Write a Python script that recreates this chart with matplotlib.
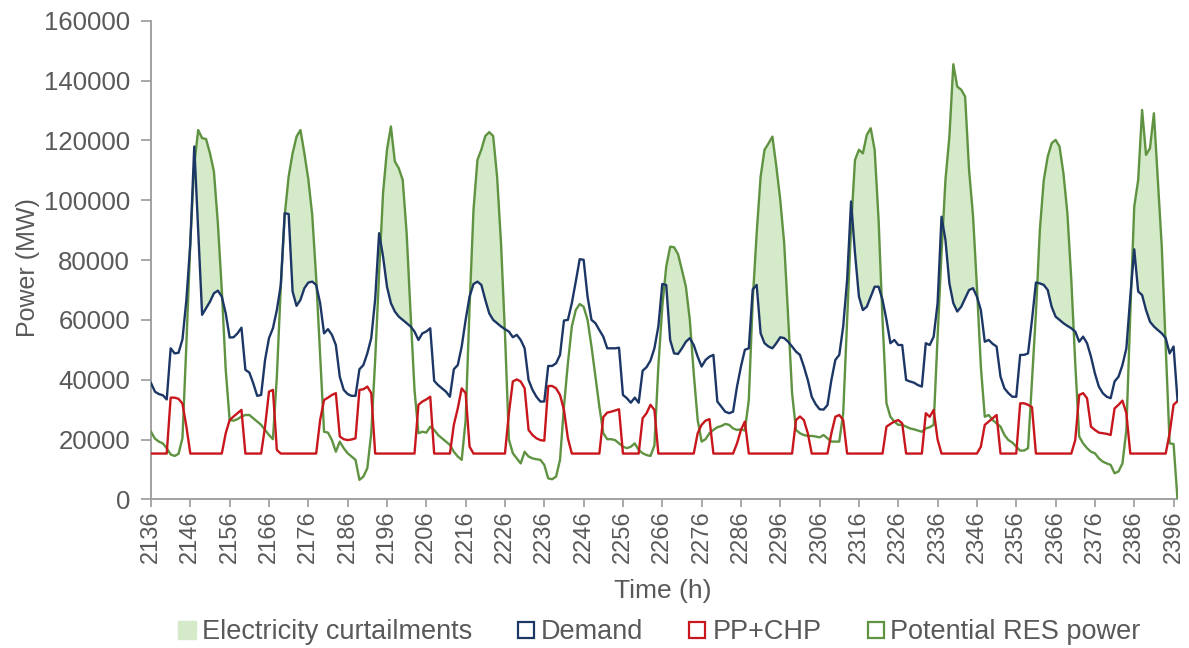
import numpy as np
import matplotlib
matplotlib.use("Agg")
import matplotlib.pyplot as plt
from matplotlib.lines import Line2D

hours = list(range(2136, 2398))

demand = [
    38900, 36000, 35200, 34800, 33400, 50500, 48800, 49000, 53500, 66700,
    85600, 118000, 90000, 61700, 63900, 66100, 68900, 69800, 67800, 62200,
    54100, 54200, 55500, 57400, 43300, 42400, 38800, 34600, 34900, 46600,
    53900, 57200, 63300, 71700, 95700, 95400, 69500, 64700, 66700, 70600,
    72500, 72800, 71700, 65600, 55500, 56900, 55000, 51600, 41000, 36600,
    35200, 34600, 34600, 43500, 44900, 48800, 53900, 66900, 89000, 81200,
    71100, 65600, 62800, 61100, 60000, 58900, 57800, 56100, 53300, 55500,
    56100, 57200, 39600, 38200, 37100, 36000, 34300, 43500, 44900, 51100,
    60000, 67800, 72000, 72800, 71700, 66700, 62200, 60000, 58900, 57800,
    56900, 56100, 54200, 55000, 53300, 50500, 39900, 36600, 34300, 32700,
    32700, 44600, 44600, 45500, 48300, 59800, 60000, 65600, 72800, 80300,
    80100, 67800, 60000, 58900, 56600, 54400, 50500, 50500, 50500, 50700,
    34900, 33800, 32300, 34000, 32300, 43000, 44200, 46400, 50500, 57800,
    72000, 71700, 53300, 48800, 48600, 50500, 52700, 53900, 51600, 47700,
    44400, 46600, 47700, 48300, 32700, 31000, 29300, 28800, 29300, 37700,
    44400, 50000, 50500, 70200, 71700, 55500, 52200, 51100, 50500, 52200,
    54200, 53900, 52700, 51100, 49400, 48300, 44400, 39900, 34300, 31800,
    30100, 30000, 31500, 39900, 46600, 48300, 57800, 73400, 99600, 82300,
    67800, 63300, 64400, 67800, 71100, 71100, 66700, 60000, 52200, 53300,
    51600, 51600, 39900, 39400, 39000, 38200, 37700, 52200, 51600, 54400,
    65600, 94500, 86700, 72200, 65600, 62800, 64400, 67200, 70000, 70600,
    67800, 63300, 52700, 53300, 52000, 51100, 41000, 37100, 35500, 34300,
    34300, 48300, 48300, 48800, 60000, 72500, 72200, 71700, 70000, 64400,
    61100, 60000, 58900, 58000, 57200, 56100, 52700, 54400, 52200, 47700,
    42100, 37700, 35500, 34300, 33800, 39400, 41000, 44900, 50500, 67800,
    83600, 69500, 68300, 63300, 59400, 57800, 56600, 55500, 53900, 48800,
    51100, 33200,
]

res_power = [
    22600, 20300, 19300, 18700, 17100, 15000, 14500, 15200, 20500, 52000,
    86000, 112000, 123500, 120800, 120500, 115700, 109600, 92300, 70000, 43300,
    26500, 26300, 26800, 27700, 28200, 28200, 27100, 26000, 24900, 23200,
    21500, 20100, 41000, 71100, 95100, 108000, 115700, 121300, 123500, 115700,
    107000, 95000, 74000, 48000, 22600, 22300, 19800, 15900, 19300, 17100,
    15400, 14300, 13200, 6500, 7600, 10400, 22100, 46600, 75600, 102400,
    116900, 124700, 113000, 110700, 106800, 89000, 62200, 36600, 22100, 22600,
    22300, 24300, 23200, 21500, 20400, 19300, 18200, 15900, 14300, 13200,
    26500, 64400, 96800, 113500, 117000, 121500, 122800, 121500, 107900, 85600,
    55500, 20000, 15400, 13700, 12000, 15900, 14300, 13700, 13400, 13200,
    11500, 7000, 6700, 7600, 13200, 31000, 45500, 57800, 63300, 65300,
    64400, 60000, 51100, 41000, 31000, 22100, 20100, 20100, 19800, 18700,
    17600, 17100, 17600, 18700, 16500, 15400, 14800, 14500, 18000, 44400,
    64400, 77800, 84500, 84300, 82000, 76700, 71100, 60000, 42100, 26500,
    19300, 20100, 22100, 23200, 24100, 24500, 25200, 24900, 23700, 23200,
    23400, 23000, 33200, 66700, 89000, 107900, 116900, 119000, 121300, 111300,
    100100, 85600, 61100, 35500, 23200, 22100, 21500, 21200, 21200, 21000,
    20700, 21500, 20400, 19300, 19300, 19300, 28800, 60000, 91200, 113500,
    116900, 115700, 121900, 124100, 116900, 93400, 60000, 32100, 27600, 26000,
    24900, 24900, 24300, 23700, 23400, 23000, 22600, 23700, 24100, 24900,
    54400, 82300, 106800, 121300, 145500, 138000, 137000, 134700, 110200, 95000,
    71100, 44400, 27600, 28200, 26500, 25400, 24300, 21500, 19800, 19000,
    17600, 16300, 16300, 17100, 39900, 62200, 90100, 106800, 114600, 119100,
    120200, 118000, 109000, 95700, 73400, 45500, 21000, 18700, 17100, 15900,
    15400, 13700, 12600, 12000, 11500, 8700, 9300, 12000, 23200, 62200,
    97900, 106800, 130200, 115200, 117400, 129100, 106800, 84500, 51100, 18700,
    18500, 0,
]

pp_chp = [
    15300, 15300, 15300, 15300, 15300, 34000, 34000, 33600, 32000, 24300,
    15300, 15300, 15300, 15300, 15300, 15300, 15300, 15300, 15300, 22100,
    26500, 27700, 28800, 29900, 15300, 15300, 15300, 15300, 15300, 24300,
    36000, 36600, 16500, 15300, 15300, 15300, 15300, 15300, 15300, 15300,
    15300, 15300, 15300, 26500, 33200, 34000, 34900, 35500, 21000, 20100,
    19800, 20000, 20400, 36600, 36800, 37700, 35500, 15300, 15300, 15300,
    15300, 15300, 15300, 15300, 15300, 15300, 15300, 15300, 31600, 32700,
    33400, 34300, 15300, 15300, 15300, 15300, 15300, 24900, 30400, 37100,
    35500, 17600, 15300, 15300, 15300, 15300, 15300, 15300, 15300, 15300,
    15300, 28800, 39400, 40100, 39400, 37100, 23200, 21500, 20400, 19800,
    19600, 37900, 37900, 37100, 34900, 29900, 20400, 15300, 15300, 15300,
    15300, 15300, 15300, 15300, 15300, 27500, 29000, 29300, 29700, 30100,
    15300, 15300, 15300, 15300, 15300, 27100, 28800, 31600, 29900, 15300,
    15300, 15300, 15300, 15300, 15300, 15300, 15300, 15300, 15300, 22100,
    24900, 26300, 26800, 15300, 15300, 15300, 15300, 15300, 15300, 18700,
    23200, 26000, 15300, 15300, 15300, 15300, 15300, 15300, 15300, 15300,
    15300, 15300, 15300, 15300, 26500, 27700, 26500, 22100, 15300, 15300,
    15300, 15300, 15300, 22100, 27600, 28200, 26500, 15300, 15300, 15300,
    15300, 15300, 15300, 15300, 15300, 15300, 15300, 24300, 25200, 26000,
    26500, 25400, 15300, 15300, 15300, 15300, 15300, 28800, 27600, 29900,
    20000, 15300, 15300, 15300, 15300, 15300, 15300, 15300, 15300, 15300,
    15300, 17600, 24900, 26000, 27100, 28200, 15300, 15300, 15300, 15300,
    15300, 32100, 32100, 31600, 30800, 15300, 15300, 15300, 15300, 15300,
    15300, 15300, 15300, 15300, 15300, 19800, 34900, 35500, 33800, 24300,
    23200, 22300, 22100, 21900, 21500, 30400, 31600, 33000, 28800, 15300,
    15300, 15300, 15300, 15300, 15300, 15300, 15300, 15300, 15300, 22100,
    31600, 32800,
]

x_ticks = list(range(2136, 2397, 10))
y_ticks = list(range(0, 160001, 20000))

legend_labels = ["Electricity curtailments", "Demand", "PP+CHP", "Potential RES power"]

C_BLUE = "#1c3766"
C_RED = "#c8161d"
C_GREEN = "#5f9341"
C_FILL = "#d4eac8"
C_TEXT = "#595959"
C_AXIS = "#9a9a9a"

plt.rcParams["font.family"] = ["Liberation Sans", "DejaVu Sans"]

fig = plt.figure(figsize=(11.89, 6.48), dpi=100)
ax = fig.add_axes([151 / 1189, 1 - 499.3 / 648, (1177.5 - 151) / 1189, (499.3 - 20.9) / 648])

h = np.array(hours)
d = np.array(demand, dtype=float)
r = np.array(res_power, dtype=float)
p = np.array(pp_chp, dtype=float)

ax.fill_between(h, d, r, where=r >= d, interpolate=True, color=C_FILL, linewidth=0, zorder=1)
ax.plot(h, r, color=C_GREEN, lw=1.7, zorder=3)
ax.plot(h, p, color=C_RED, lw=1.7, zorder=4)
ax.plot(h, d, color=C_BLUE, lw=1.7, zorder=5)

ax.set_xlim(2136, 2397)
ax.set_ylim(0, 160000)
ax.set_xticks(x_ticks)
ax.set_xticklabels([str(t) for t in x_ticks], rotation=90)
ax.set_yticks(y_ticks)
ax.set_yticklabels([str(t) for t in y_ticks])

for s in ["top", "right"]:
    ax.spines[s].set_visible(False)
for s in ["left", "bottom"]:
    ax.spines[s].set_color(C_AXIS)
    ax.spines[s].set_linewidth(1.3)

ax.tick_params(axis="both", colors=C_AXIS, labelcolor=C_TEXT,
               length=7, width=1.2, direction="out")
ax.tick_params(axis="y", pad=8, labelsize=18.5)
ax.tick_params(axis="x", pad=2, labelsize=17, length=6)

fig.text(663 / 1189, 1 - 591 / 648, "Time (h)", ha="center", va="center",
         fontsize=19, color=C_TEXT)
fig.text(28 / 1189, 1 - 268 / 648, "Power (MW)", ha="center", va="center",
         rotation=90, fontsize=18, color=C_TEXT)

handles = [
    Line2D([], [], ls="none", marker="s", markersize=12.5, markerfacecolor=C_FILL,
           markeredgecolor=C_FILL),
    Line2D([], [], ls="none", marker="s", markersize=11.5, markerfacecolor="white",
           markeredgecolor=C_BLUE, markeredgewidth=1.6),
    Line2D([], [], ls="none", marker="s", markersize=11.5, markerfacecolor="white",
           markeredgecolor=C_RED, markeredgewidth=1.6),
    Line2D([], [], ls="none", marker="s", markersize=11.5, markerfacecolor="white",
           markeredgecolor=C_GREEN, markeredgewidth=1.6),
]
leg = fig.legend(handles, legend_labels, loc="center", bbox_to_anchor=(659 / 1189, 1 - 632 / 648),
                 ncol=4, frameon=False, fontsize=19.5, handlelength=0.7, handletextpad=0.2,
                 columnspacing=1.65, labelcolor=C_TEXT)

fig.savefig("out.png", dpi=100)
